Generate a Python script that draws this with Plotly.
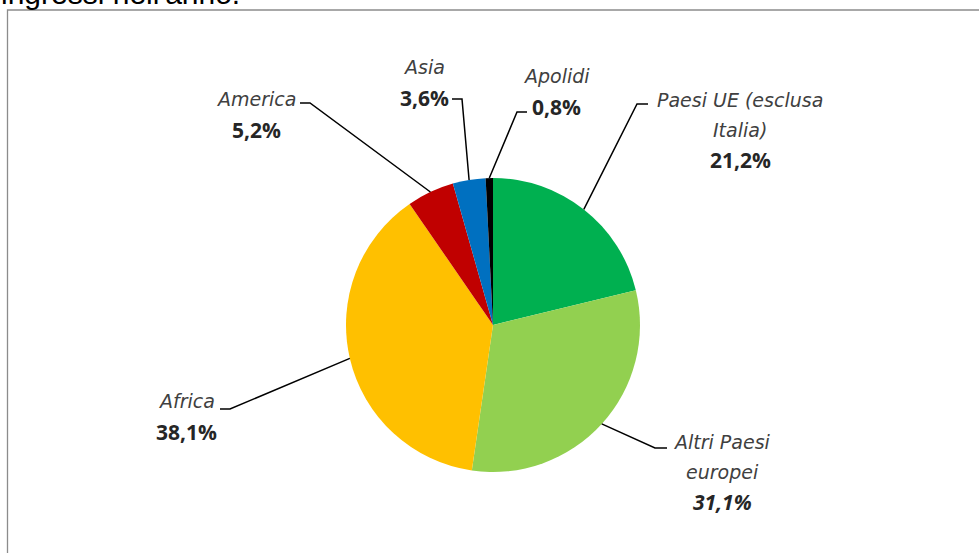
import math
import plotly.graph_objects as go

# ---- data ----
categories = ["Paesi UE (esclusa\nItalia)", "Altri Paesi\neuropei", "Africa", "America", "Asia", "Apolidi"]
values = [21.2, 31.1, 38.1, 5.2, 3.6, 0.8]
colors = ["#00B050", "#92D050", "#FFC000", "#C00000", "#0070C0", "#000000"]
pct_italic = [False, True, False, False, False, False]

W, H = 979, 553
CX, CY, R = 493, 325, 147

def X(px):
    return px / W

def Y(py):
    return 1 - py / H

fig = go.Figure()
fig.add_trace(go.Pie(
    labels=[c.replace("\n", " ") for c in categories],
    values=values,
    marker=dict(colors=colors, line=dict(width=0)),
    sort=False,
    direction="clockwise",
    rotation=0,
    textinfo="none",
    hoverinfo="label+percent",
    showlegend=False,
    domain=dict(x=[X(CX - R), X(CX + R)], y=[Y(CY + R), Y(CY - R)]),
))

# label layout: (x center, first line y center, line spacing, elbow point, horizontal end)
label_layout = [
    (740, 100, 30, (637, 104), (648, 104)),
    (722, 442, 30, (655, 448), (667, 448)),
    (186, 401, 31, (230, 409), (220, 409)),
    (256, 99, 31, (310, 103), (300, 103)),
    (424, 67, 31, (462, 99), (452, 99)),
    (556, 76, 31, (517, 112), (527, 112)),
]

NAME_FONT = "DejaVu Sans, sans-serif"
PCT_FONT = "Open Sans, sans-serif"

total = sum(values)
cum = 0.0
shapes = []
annotations = []
for name, v, ital, lay in zip(categories, values, pct_italic, label_layout):
    mid = (cum + v / 2) / total
    cum += v
    ang = 2 * math.pi * mid
    ex = CX + R * math.sin(ang)
    ey = CY - R * math.cos(ang)
    lx, ly, sp, (bx, by), (hx, hy) = lay
    shapes.append(dict(
        type="path", xref="paper", yref="paper",
        path=f"M {X(ex)} {Y(ey)} L {X(bx)} {Y(by)} L {X(hx)} {Y(hy)}",
        line=dict(color="#000000", width=1.5),
    ))
    lines = name.split("\n")
    pct = f"{v:.1f}".replace(".", ",") + "%"
    for i, t in enumerate(lines):
        annotations.append(dict(
            x=X(lx), y=Y(ly + i * sp), xref="paper", yref="paper",
            text=t, showarrow=False, xanchor="center", yanchor="middle",
            font=dict(family=NAME_FONT, size=19, color="#404040", style="italic"),
        ))
    annotations.append(dict(
        x=X(lx), y=Y(ly + len(lines) * sp), xref="paper", yref="paper",
        text=f"<b>{pct}</b>", showarrow=False, xanchor="center", yanchor="middle",
        font=dict(family=PCT_FONT, size=21, color="#262626",
                  style="italic" if ital else "normal"),
    ))

# cut-off heading above the frame
annotations.append(dict(
    x=X(-1), y=Y(12), xref="paper", yref="paper", text="ingressi nell'anno.",
    showarrow=False, xanchor="left", yanchor="bottom",
    font=dict(family="Liberation Sans, Arial, sans-serif", size=30, color="#000000"),
))

# chart frame
shapes.append(dict(type="rect", xref="paper", yref="paper",
                   x0=X(7.5), x1=1.2, y0=-0.2, y1=Y(10),
                   line=dict(color="#8c8c8c", width=1.3), layer="below"))

fig.update_layout(
    width=W, height=H,
    margin=dict(l=0, r=0, t=0, b=0),
    paper_bgcolor="white", plot_bgcolor="white",
    shapes=shapes, annotations=annotations,
)

fig.write_html("out.html", config={"displayModeBar": False},
               post_script="document.body.style.margin='0px';")
